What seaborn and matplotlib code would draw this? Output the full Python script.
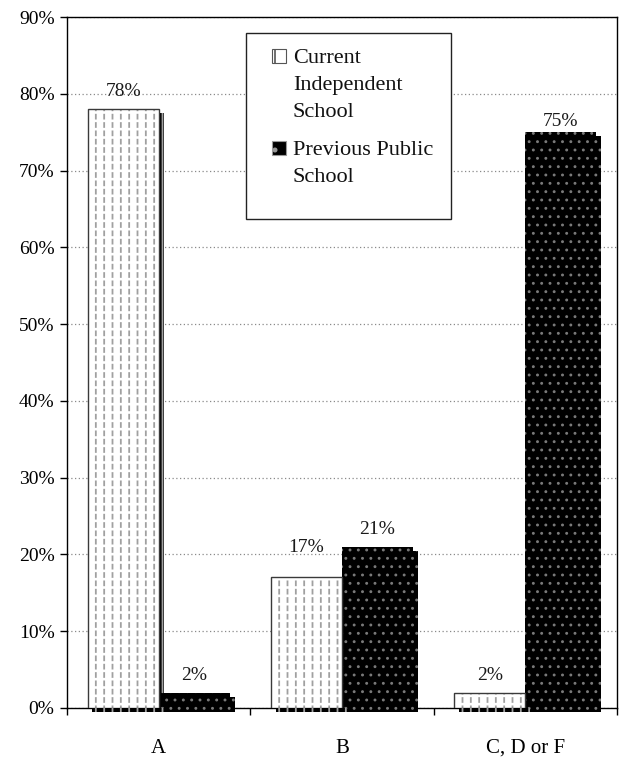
import matplotlib
matplotlib.use("Agg")
import matplotlib.pyplot as plt
import pandas as pd
import seaborn as sns
from matplotlib import patheffects as pe
from matplotlib.patches import Rectangle
from matplotlib.ticker import PercentFormatter, FixedLocator

# Grade distribution by school type (percent of students)
grades = ["A", "B", "C, D or F"]
current_school = [78, 17, 2]
previous_school = [2, 21, 75]
series = ["Current Independent School", "Previous Public School"]
legend_lines = [["Current", "Independent", "School"], ["Previous Public", "School"]]
y_ticks = [0, 10, 20, 30, 40, 50, 60, 70, 80, 90]

df = pd.DataFrame({
    "grade": grades * 2,
    "share": current_school + previous_school,
    "school": [series[0]] * len(grades) + [series[1]] * len(grades),
})

sns.set_theme(style="white")
plt.rcParams["font.family"] = ["Liberation Serif", "DejaVu Serif"]
plt.rcParams["hatch.linewidth"] = 1.2

W, H = 624, 759
fig = plt.figure(figsize=(W / 100, H / 100), dpi=100)
ax = fig.add_axes([67 / W, 1 - 708 / H, 550 / W, 691 / H])

sns.barplot(data=df, x="grade", y="share", hue="school", order=grades,
            hue_order=series, palette=["white", "black"], width=0.775,
            edgecolor="black", linewidth=0, legend=False, ax=ax, zorder=3)

shadow = [pe.SimplePatchShadow(offset=(3.5, -2.8), shadow_rgbFace="black", alpha=1.0),
          pe.Normal()]


def hatch_width(patch, lw):
    if hasattr(patch, "set_hatch_linewidth"):
        patch.set_hatch_linewidth(lw)


# light bars: grey vertical dashes on white, dark outline, black drop shadow
for bar in ax.containers[0]:
    bar.set_facecolor("white")
    bar.set_edgecolor("#a0a0a0")
    bar.set_hatch("||")
    bar.set_linewidth(0)
    bar.set_clip_on(False)
    bar.set_path_effects(shadow)
    hatch_width(bar, 1.3)
    xy, w, h = (bar.get_x(), bar.get_y()), bar.get_width(), bar.get_height()
    gaps = Rectangle(xy, w, h, facecolor="none", edgecolor="white",
                     hatch="--", linewidth=0, zorder=3.1)
    hatch_width(gaps, 1.9)
    ax.add_patch(gaps)
    ax.add_patch(Rectangle(xy, w, h, facecolor="none", edgecolor="#3a3a3a",
                           linewidth=1.0, zorder=3.2))

# dark bars: black with a sparse grid of pale dots
for bar in ax.containers[1]:
    bar.set_facecolor("black")
    bar.set_edgecolor("#7a7a7a")
    bar.set_hatch("..")
    bar.set_linewidth(0)
    bar.set_clip_on(False)
    bar.set_path_effects(shadow)
    hatch_width(bar, 0.9)

label_pads = [[6.5, 15.5, 6.5], [6.0, 6.5, 1.5]]
for cont, pads in zip(ax.containers[:2], label_pads):
    for bar, val, pad in zip(cont, cont.datavalues, pads):
        ax.annotate(f"{val:.0f}%", (bar.get_x() + bar.get_width() / 2, val),
                    xytext=(0, pad), textcoords="offset points",
                    ha="center", va="bottom", fontsize=14, color="#1a1a1a")

ax.set_ylim(0, 90)
ax.set_xlim(-0.5, len(grades) - 0.5)
ax.yaxis.set_major_locator(FixedLocator(y_ticks))
ax.yaxis.set_major_formatter(PercentFormatter(decimals=0))
ax.xaxis.set_minor_locator(FixedLocator([i - 0.5 for i in range(len(grades) + 1)]))
ax.tick_params(axis="y", which="major", left=True, length=5, width=1,
               direction="out", labelsize=14, pad=4, colors="black")
ax.tick_params(axis="x", which="major", bottom=True, length=0, labelsize=15, pad=22,
               labelcolor="black")
ax.tick_params(axis="x", which="minor", bottom=True, length=5, width=1,
               direction="out", color="black")
ax.set_xlabel("")
ax.set_ylabel("")

ax.yaxis.grid(True, linestyle=(0, (1, 2)), color="#8a8a8a", linewidth=0.9)
ax.set_axisbelow(True)
for sp in ax.spines.values():
    sp.set_color("black")
    sp.set_linewidth(1.0)


# legend: plain square frame, swatch beside the first line of each entry
def fx(px):
    return px / W


def fy(py):
    return 1 - py / H


fig.patches.append(Rectangle((fx(246), fy(219)), fx(205), 186 / H,
                             transform=fig.transFigure, facecolor="white",
                             edgecolor="#222222", linewidth=1.0, zorder=5))
swatches = [dict(facecolor="white", edgecolor="#555555", hatch="|"),
            dict(facecolor="black", edgecolor="#999999", hatch=".")]
baselines = [[63, 90, 117], [155, 182]]
for style, lines, bases in zip(swatches, legend_lines, baselines):
    fig.patches.append(Rectangle((fx(272), fy(bases[0])), fx(14), 14 / H,
                                 transform=fig.transFigure, linewidth=0.8,
                                 zorder=6, **style))
    for text, base in zip(lines, bases):
        fig.text(fx(293), fy(base), text, fontsize=16, va="baseline",
                 ha="left", color="#111111", zorder=7)

fig.savefig("out.png", dpi=100, facecolor="white")
